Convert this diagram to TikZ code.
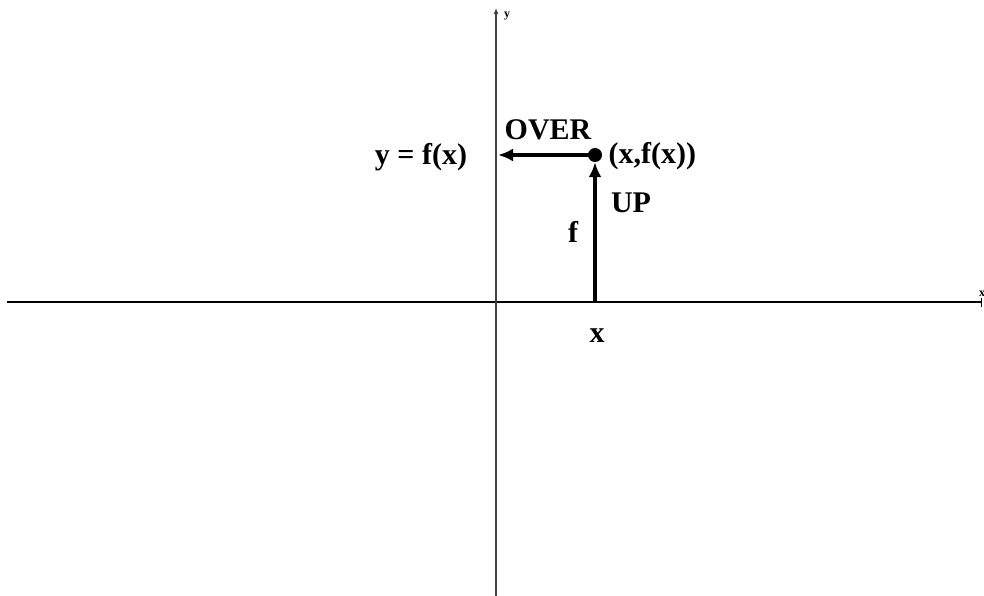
\documentclass[tikz,border=0pt]{standalone}
\usepackage{fontspec}
\setmainfont{Liberation Serif}
\usetikzlibrary{arrows.meta}
\tikzset{
  axis/.style={line width=1.3pt},
  move/.style={line width=4.4pt, -{Latex[length=15pt,width=13pt]}},
  lbl/.style={font=\bfseries\fontsize{30}{34}\selectfont},
  tiny/.style={font=\bfseries\fontsize{12}{13}\selectfont}
}
\begin{document}
\begin{tikzpicture}[x=1pt, y=-1pt]
    \useasboundingbox (0,0) rectangle (984,596);
    % axes
    \coordinate (xl) at (7,302); \coordinate (xr) at (982,302);
    \coordinate (yb) at (496,596); \coordinate (yt) at (496,8);
    \draw[axis, -{Bar[width=9pt]}] (xl) -- (xr);
    \draw[axis, black!75, -{Latex[length=6pt,width=5pt]}] (yb) -- (yt);
    \node[tiny] (ylab) at (507,16) {y};
    \node[tiny] (xlab) at (982,294) {x};
    % point and moves
    \node[circle, fill, inner sep=0pt, minimum size=14pt] (pt) at (595,155) {};
    \coordinate (foot) at (595,302);
    \coordinate (yhit) at (498,155);
    \draw[move] (foot) -- (pt.south);
    \draw[move] (pt.center) -- (yhit);
    % labels
    \node[lbl] (over) at (548,130) {OVER};
    \node[lbl, anchor=west] (ptlab) at (605,156) {(x,f(x))};
    \node[lbl] (ylbl) at (421,157) {y = f(x)};
    \node[lbl] (up) at (631,203) {UP};
    \node[lbl] (flab) at (573,232) {f};
    \node[lbl] (xval) at (597,336) {x};
\end{tikzpicture}
\end{document}
